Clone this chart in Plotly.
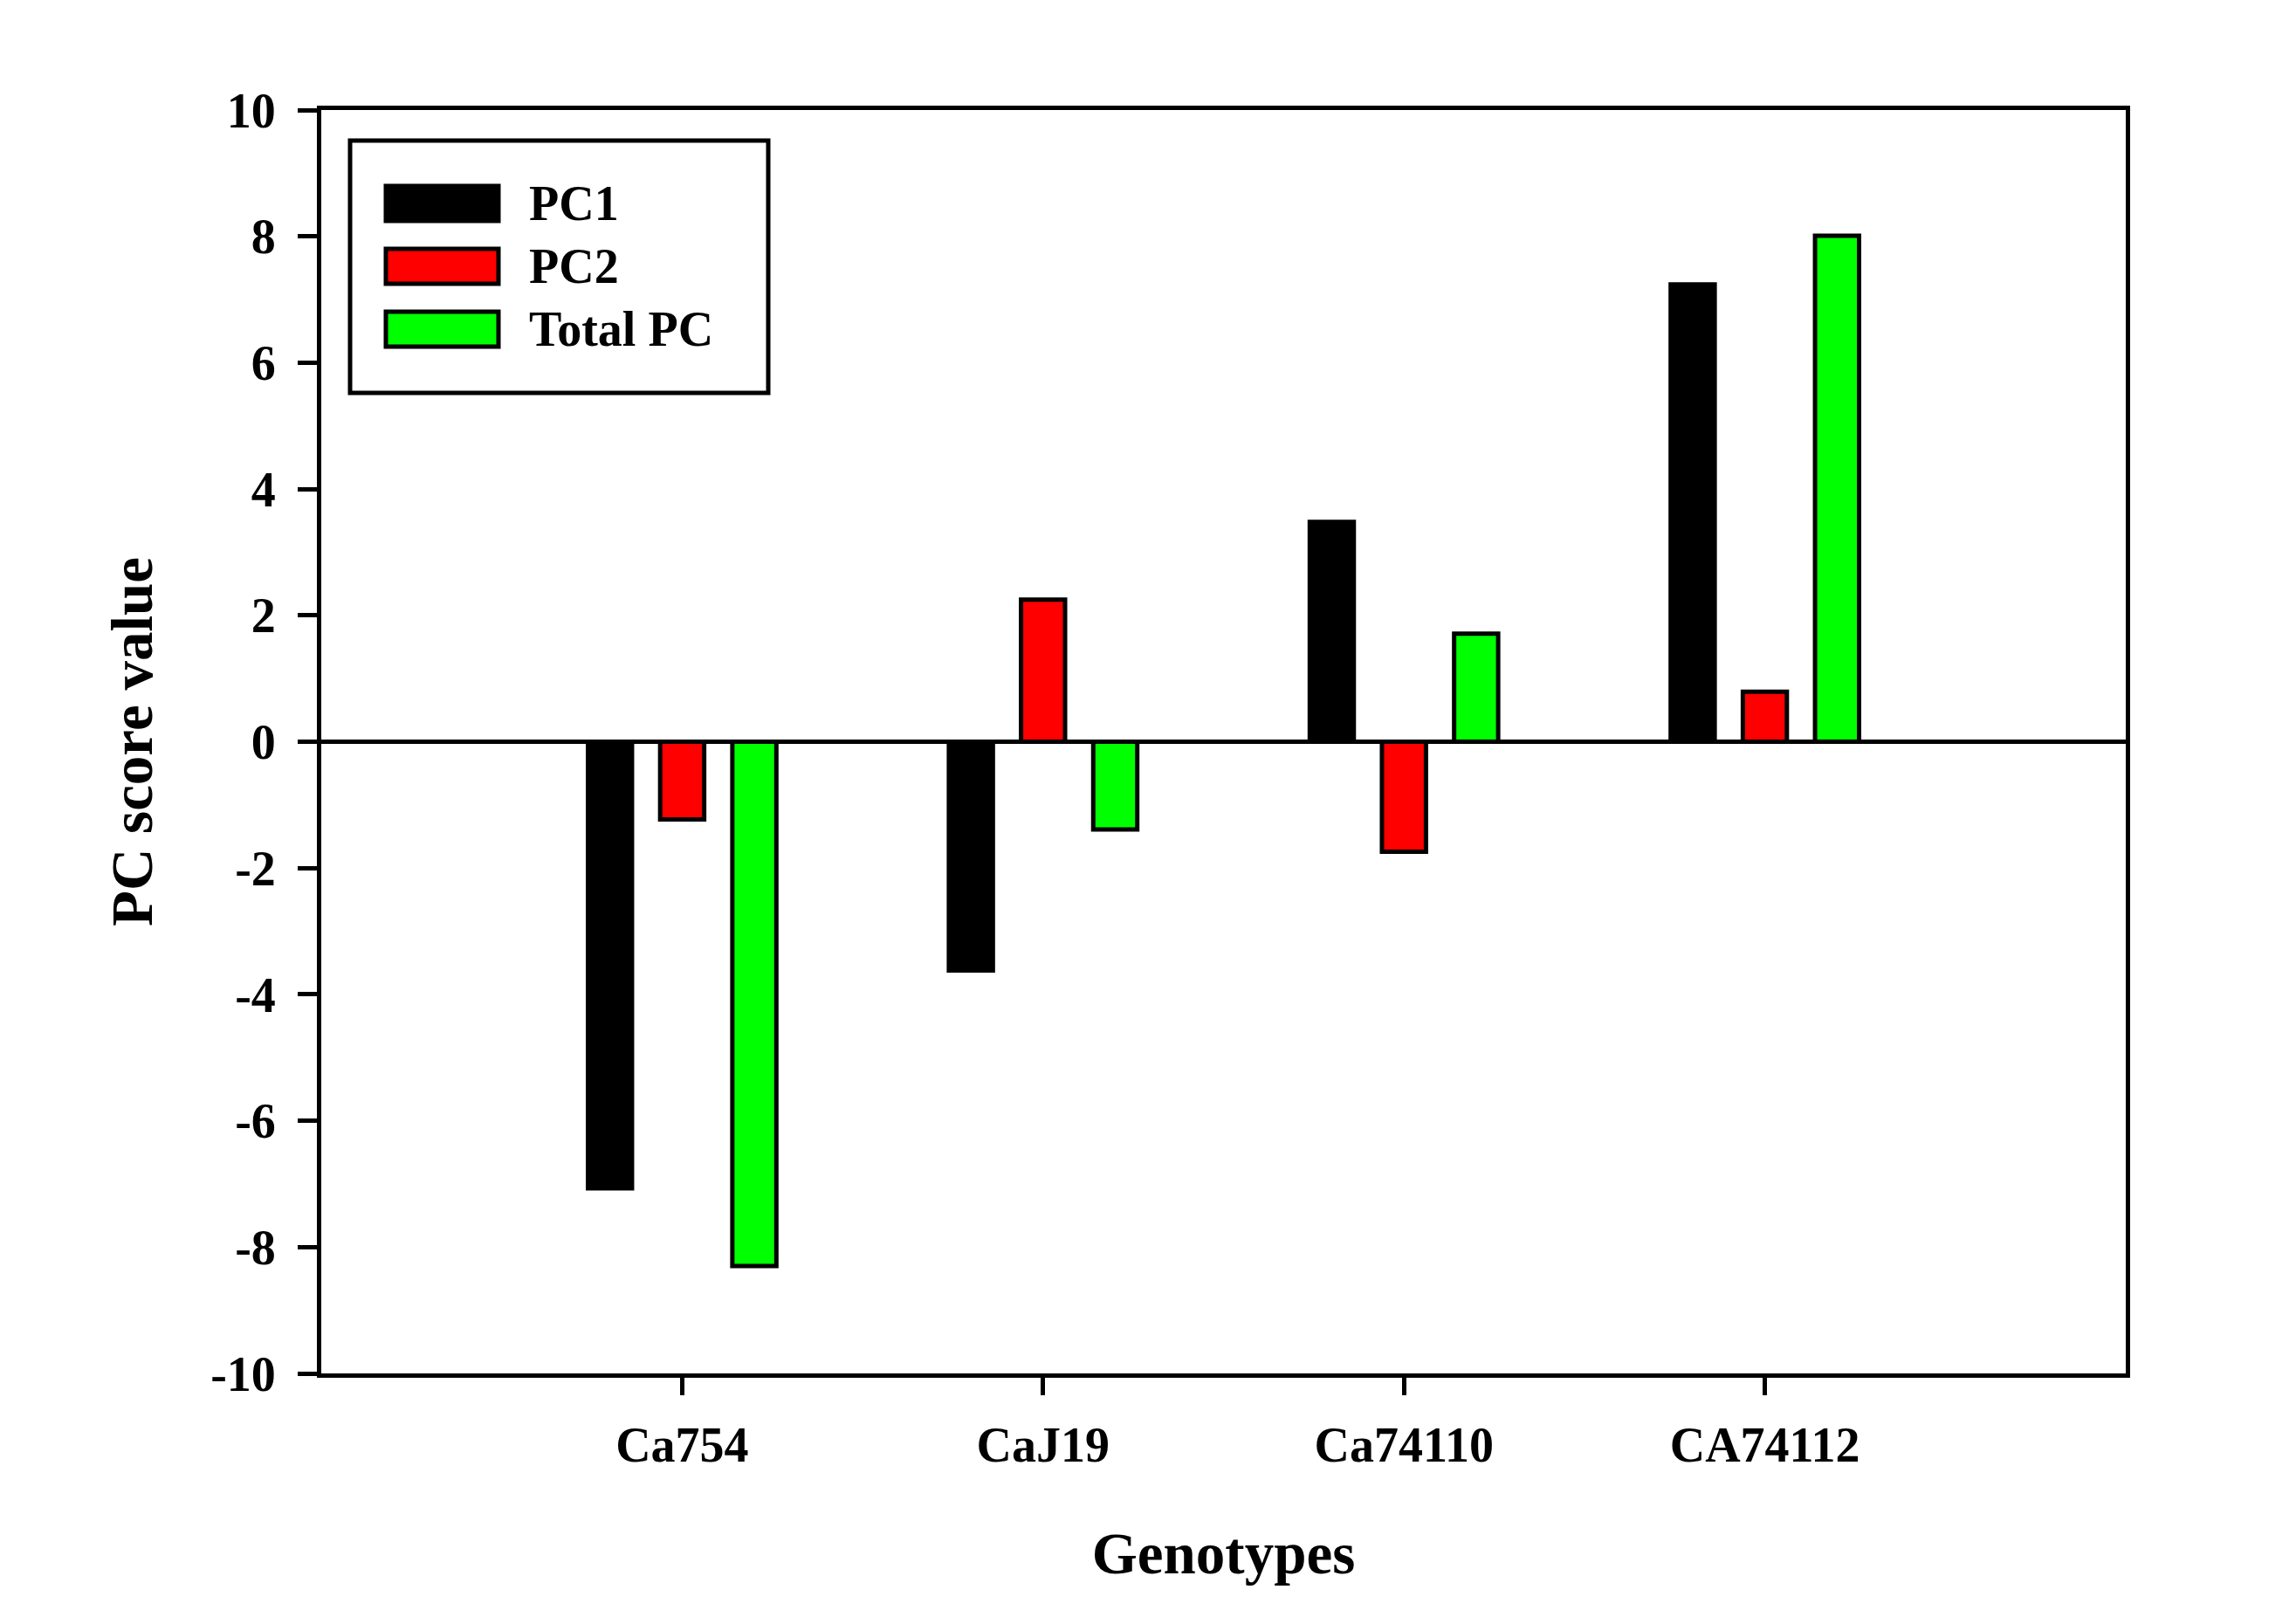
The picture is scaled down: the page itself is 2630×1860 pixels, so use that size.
import plotly.graph_objects as go

# Datos
genotypes = ["Ca754", "CaJ19", "Ca74110", "CA74112"]
pc1 = [-7.07, -3.62, 3.48, 7.24]
pc2 = [-1.23, 2.25, -1.74, 0.79]
total_pc = [-8.30, -1.39, 1.71, 8.01]

series_names = ["PC1", "PC2", "Total PC"]
series_colors = ["#000000", "#FF0000", "#00FF00"]
y_ticks = [-10, -8, -6, -4, -2, 0, 2, 4, 6, 8, 10]
y_tick_labels = ["-10", "-8", "-6", "-4", "-2", "0", "2", "4", "6", "8", "10"]

W, H = 2630, 1860
# el body de la pagina agrega 8 px arriba y a la izquierda
L, R, T, B = 360, 203, 118, 295
FONT = "Liberation Serif"

fig = go.Figure()

for name, vals, col in zip(series_names, [pc1, pc2, total_pc], series_colors):
    fig.add_trace(go.Bar(
        x=genotypes,
        y=vals,
        name=name,
        marker=dict(color=col, line=dict(color="black", width=5)),
        showlegend=False
    ))


# pixeles de la pagina -> coordenadas paper
def px(x):
    return (x - 8 - L) / (W - L - R)


def py(y):
    return (H + 8 - B - y) / (H - T - B)


# Leyenda dibujada a mano (cajas anchas como en el original)
shapes = [dict(type="rect", xref="paper", yref="paper",
               x0=px(401), x1=px(880), y0=py(161), y1=py(450),
               line=dict(color="black", width=5), fillcolor="white", layer="above")]
annotations = []
row_centers = [233, 305, 377]
for name, col, yc in zip(series_names, series_colors, row_centers):
    shapes.append(dict(type="rect", xref="paper", yref="paper",
                       x0=px(442), x1=px(571), y0=py(yc - 20), y1=py(yc + 20),
                       line=dict(color="black", width=5), fillcolor=col, layer="above"))
    annotations.append(dict(xref="paper", yref="paper", x=px(604), y=py(yc),
                            xanchor="left", yanchor="middle", text=name, showarrow=False,
                            font=dict(family=FONT, size=56, color="black", weight="bold")))

fig.update_layout(
    width=W,
    height=H,
    margin=dict(l=L, r=R, t=T, b=B),
    plot_bgcolor="white",
    paper_bgcolor="white",
    barmode="group",
    bargap=0.4,
    bargroupgap=0.39,
    font=dict(family=FONT, size=56, color="black", weight="bold"),
    shapes=shapes,
    annotations=annotations,
    xaxis=dict(
        type="category",
        range=[-1, 4],
        showline=True, linewidth=5, linecolor="black", mirror=True,
        ticks="outside", ticklen=20, tickwidth=5, tickcolor="black",
        ticklabelstandoff=9,
        showgrid=False,
        tickfont=dict(family=FONT, size=56, weight="bold"),
        title=dict(text="Genotypes", standoff=71,
                   font=dict(family=FONT, size=67, weight="bold"))
    ),
    yaxis=dict(
        range=[-10, 10],
        tickvals=y_ticks,
        ticktext=y_tick_labels,
        showline=True, linewidth=5, linecolor="black", mirror=True,
        ticks="outside", ticklen=22, tickwidth=5, tickcolor="black",
        ticklabelstandoff=14,
        showgrid=False,
        zeroline=True, zerolinewidth=5, zerolinecolor="black",
        tickfont=dict(family=FONT, size=56, weight="bold"),
        title=dict(text="PC score value", standoff=46,
                   font=dict(family=FONT, size=67, weight="bold"))
    )
)

fig.write_html("out.html")
